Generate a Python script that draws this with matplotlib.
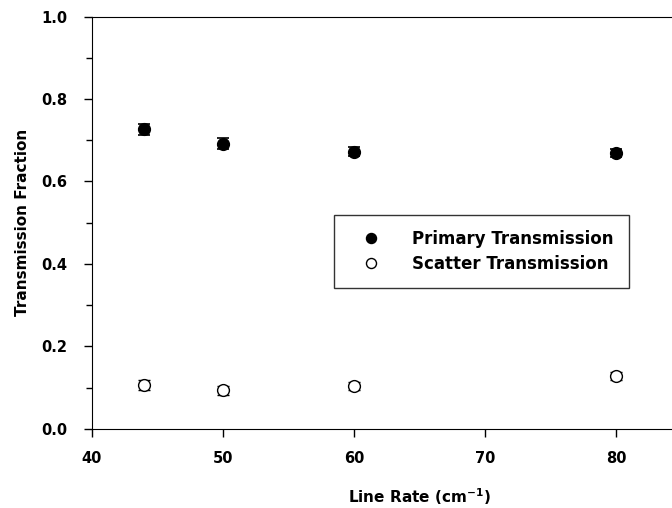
import matplotlib
matplotlib.use("Agg")
import matplotlib.pyplot as plt
from matplotlib.ticker import MultipleLocator, FixedLocator

plt.rcParams['font.family'] = ['DejaVu Sans']
plt.rcParams['font.weight'] = 'bold'
plt.rcParams['mathtext.default'] = 'bf'

line_rate = [44, 50, 60, 80]
primary = [0.727, 0.692, 0.672, 0.670]
primary_err = [0.013, 0.013, 0.011, 0.010]
scatter = [0.105, 0.093, 0.103, 0.127]
scatter_err = [0.012, 0.011, 0.010, 0.010]

fig = plt.figure(figsize=(6.72, 5.08), dpi=100)
# axes continue past the right edge like in the original figure
ax = fig.add_axes([92 / 672, 79.3 / 508, 655 / 672, 412 / 508])

ax.errorbar(line_rate, primary, yerr=primary_err, fmt='o', color='black',
            markersize=8.5, capsize=4, elinewidth=1, capthick=1.2,
            label='Primary Transmission')
ax.errorbar(line_rate, scatter, yerr=scatter_err, fmt='o', color='black',
            markerfacecolor='white', markeredgecolor='black', markeredgewidth=1,
            markersize=8.5, capsize=4, elinewidth=1, capthick=1.2,
            label='Scatter Transmission')

ax.set_xlim(40, 90)
ax.set_ylim(0, 1.0)
ax.xaxis.set_major_locator(FixedLocator([40, 50, 60, 70, 80]))
ax.yaxis.set_major_locator(MultipleLocator(0.2))
ax.yaxis.set_minor_locator(MultipleLocator(0.1))
ax.yaxis.set_major_formatter(plt.FormatStrFormatter('%.1f'))

ax.tick_params(which='major', direction='out', length=6, width=1, labelsize=10.5)
ax.tick_params(which='minor', direction='out', length=4, width=1)
ax.tick_params(axis='x', pad=10)
ax.tick_params(axis='y', pad=12)
ax.tick_params(top=False, right=False)
for lab in ax.get_xticklabels() + ax.get_yticklabels():
    lab.set_fontweight('bold')

ax.set_xlabel('Line Rate (cm$^{-1}$)', fontsize=11, fontweight='bold', labelpad=15)
ax.set_ylabel('Transmission Fraction', fontsize=11, fontweight='bold', labelpad=8)

handles, labels = ax.get_legend_handles_labels()
handles = [h[0] for h in handles]
leg = ax.legend(handles, labels, loc='upper left',
                bbox_to_anchor=((334 - 92) / 655, (428.7 - 215) / 412),
                borderaxespad=0,
                fontsize=12, frameon=True, fancybox=False, edgecolor='black',
                borderpad=0.9, handlelength=2.6, handletextpad=1.2,
                labelspacing=0.4, markerscale=0.85)
leg.get_frame().set_linewidth(1)
for t in leg.get_texts():
    t.set_fontweight('bold')

fig.savefig('out.png', dpi=100)
